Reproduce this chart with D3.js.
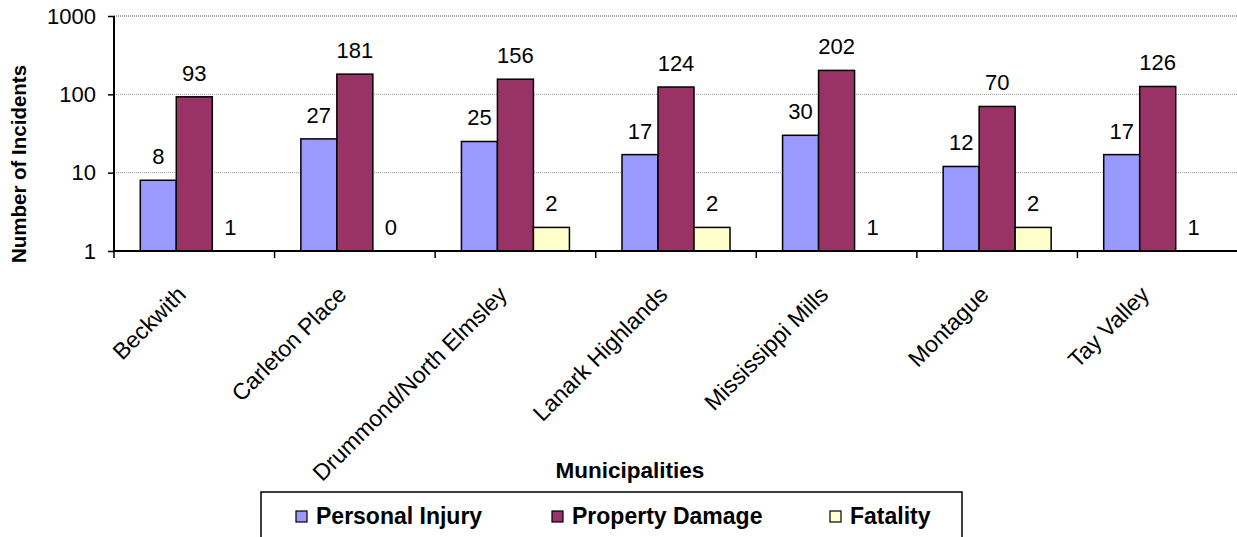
<!DOCTYPE html>
<html>
<head>
<meta charset="utf-8">
<script src="https://cdn.jsdelivr.net/npm/d3@7"></script>
<style>
  body { margin: 0; background: #fff; }
  text { font-family: Arial, "Liberation Sans", sans-serif; fill: #000; }
</style>
</head>
<body>
<script>
// data
let municipalities = ["Beckwith", "Carleton Place", "Drummond/North Elmsley", "Lanark Highlands", "Mississippi Mills", "Montague", "Tay Valley"];
let personalInjury = [8, 27, 25, 17, 30, 12, 17];
let propertyDamage = [93, 181, 156, 124, 202, 70, 126];
let fatality = [1, 0, 2, 2, 1, 2, 1];
let seriesNames = ["Personal Injury", "Property Damage", "Fatality"];
let seriesColors = ["#9999ff", "#993366", "#ffffcc"];
let yTicks = [1, 10, 100, 1000];

let width = 1237, height = 537;
let plot = { left: 114, right: 1238, top: 16, bottom: 251 };

let svg = d3.select("body").append("svg")
    .attr("width", width)
    .attr("height", height);

let x = d3.scaleBand()
    .domain(municipalities)
    .range([plot.left, plot.right]);

let groupWidth = 108;
let x1 = d3.scaleBand()
    .domain(seriesNames)
    .range([0, groupWidth]);

let y = d3.scaleLog()
    .domain([1, 1000])
    .range([plot.bottom, plot.top]);

let color = d3.scaleOrdinal().domain(seriesNames).range(seriesColors);

// gridlines
svg.append("g")
    .selectAll("line")
    .data(yTicks.slice(1))
    .enter()
    .append("line")
    .attr("x1", plot.left)
    .attr("x2", plot.right)
    .attr("y1", d => y(d))
    .attr("y2", d => y(d))
    .attr("stroke", d => d == 1000 ? "#444" : "#999")
    .attr("stroke-width", 1)
    .attr("stroke-dasharray", "1,1");

// build rows: one per municipality
let rows = municipalities.map(function (m, i) {
    return {
        name: m,
        values: [personalInjury[i], propertyDamage[i], fatality[i]]
    };
});

let groups = svg.selectAll(".group")
    .data(rows)
    .enter()
    .append("g")
    .attr("class", "group")
    .attr("transform", d => "translate(" + (x(d.name) + (x.bandwidth() - groupWidth) / 2) + ",0)");

let cells = groups.selectAll(".cell")
    .data(d => d.values.map((v, j) => ({ key: seriesNames[j], value: v })))
    .enter();

cells.filter(d => d.value > 1)
    .append("rect")
    .attr("x", d => x1(d.key))
    .attr("width", x1.bandwidth())
    .attr("y", d => y(d.value))
    .attr("height", d => y(1) - y(d.value))
    .attr("fill", d => color(d.key))
    .attr("stroke", "#000")
    .attr("stroke-width", 1.5);

// value labels (0 sits where 1 would)
cells.append("text")
    .attr("x", d => x1(d.key) + x1.bandwidth() / 2)
    .attr("y", d => y(Math.max(d.value, 1)) - 16)
    .attr("text-anchor", "middle")
    .style("font-size", "22px")
    .text(d => d.value);

// y axis
let yAxis = d3.axisLeft(y)
    .tickValues(yTicks)
    .tickFormat(d3.format("d"))
    .tickSize(6)
    .tickPadding(12);

let yG = svg.append("g")
    .attr("transform", "translate(" + plot.left + ",0)")
    .call(yAxis);
yG.select(".domain").attr("stroke", "#000").attr("stroke-width", 2).attr("d", "M0," + plot.top + "V" + plot.bottom);
yG.selectAll(".tick line").attr("stroke", "#000").attr("stroke-width", 1.5);
yG.selectAll(".tick text").style("font-size", "22px").style("font-family", "Arial, 'Liberation Sans', sans-serif").attr("fill", "#000");

// x axis: ticks on band edges
let xAxis = d3.axisBottom(x).tickSize(0).tickFormat("");
let xG = svg.append("g")
    .attr("transform", "translate(0," + plot.bottom + ")")
    .call(xAxis);
xG.select(".domain").attr("stroke", "#000").attr("stroke-width", 2).attr("d", "M" + plot.left + ",0H" + plot.right);

xG.selectAll(".edge")
    .data(municipalities)
    .enter()
    .append("line")
    .attr("class", "edge")
    .attr("x1", d => x(d))
    .attr("x2", d => x(d))
    .attr("y1", 0)
    .attr("y2", 7)
    .attr("stroke", "#000")
    .attr("stroke-width", 1.5);

xG.selectAll(".catlabel")
    .data(municipalities)
    .enter()
    .append("text")
    .attr("class", "catlabel")
    .attr("text-anchor", "end")
    .attr("transform", d => "translate(" + (x(d) + x.bandwidth() / 2 - 7) + ",45) rotate(-45)")
    .style("font-size", "23px")
    .text(d => d);

// axis titles
svg.append("text")
    .attr("transform", "translate(26,164) rotate(-90)")
    .attr("text-anchor", "middle")
    .style("font-size", "20.5px")
    .style("font-weight", "bold")
    .text("Number of Incidents");

svg.append("text")
    .attr("x", 630)
    .attr("y", 478)
    .attr("text-anchor", "middle")
    .style("font-size", "22.5px")
    .style("font-weight", "bold")
    .text("Municipalities");

// legend
let legend = svg.append("g");
legend.append("rect")
    .attr("x", 261)
    .attr("y", 492)
    .attr("width", 701)
    .attr("height", 80)
    .attr("fill", "#fff")
    .attr("stroke", "#000")
    .attr("stroke-width", 1.5);

let legendX = [296, 552, 830];
let items = legend.selectAll(".item")
    .data(seriesNames)
    .enter()
    .append("g")
    .attr("class", "item")
    .attr("transform", (d, i) => "translate(" + legendX[i] + ",0)");

items.append("rect")
    .attr("x", 0)
    .attr("y", 511)
    .attr("width", 11)
    .attr("height", 11)
    .attr("fill", d => color(d))
    .attr("stroke", "#000")
    .attr("stroke-width", 1.2);

items.append("text")
    .attr("x", 20)
    .attr("y", 524)
    .style("font-size", "23px")
    .style("font-weight", "bold")
    .text(d => d);
</script>
</body>
</html>
